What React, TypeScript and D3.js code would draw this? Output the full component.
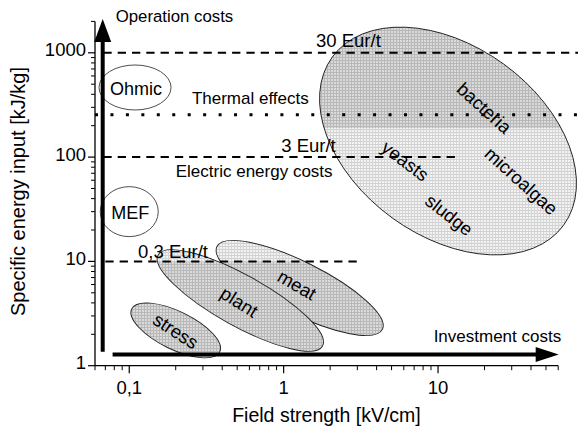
import React from 'react';
import * as d3 from 'd3';

const W = 578;
const H = 429;
const FONT = '"Liberation Sans", Arial, Helvetica, sans-serif';

// axes
const xDomain = [0.06, 60];
const yDomain = [1, 2000];
const xMajorTicks = [0.1, 1, 10];
const xTickLabels = ['0,1', '1', '10'];
const xMinorTicks = [0.06, 0.07, 0.08, 0.09, 0.2, 0.3, 0.4, 0.5, 0.6, 0.7, 0.8, 0.9, 2, 3, 4, 5, 6, 7, 8, 9, 20, 30, 40, 50, 60];
const yMajorTicks = [1, 10, 100, 1000];
const yTickLabels = ['1', '10', '100', '1000'];
const yMinorTicks = [2, 3, 4, 5, 6, 7, 8, 9, 20, 30, 40, 50, 60, 70, 80, 90, 200, 300, 400, 500, 600, 700, 800, 900, 2000];
const xTitle = 'Field strength [kV/cm]';
const yTitle = 'Specific energy input [kJ/kg]';

// cost levels (dashed lines)
const costLevels = [1000, 100, 10];
const costLabels = ['30 Eur/t', '3 Eur/t', '0,3 Eur/t'];
const costLineStart = [0.068, 0.068, 0.07];
const costLineEnd = [85, 13.3, 3];
const costLabelX = [1.62, 0.965, 0.114];

// thermal effects (dotted line)
const thermalLevel = 255;
const thermalLabel = 'Thermal effects';
const thermalLabelX = 0.2545;
const electricLabel = 'Electric energy costs';
const electricLabelX = 0.2;
const electricLabelY = 64;

// arrows
const operationLabel = 'Operation costs';
const investmentLabel = 'Investment costs';
const vArrowX = 0.0673;
const vArrowFromY = 1.36;
const hArrowY = 1.28;
const hArrowFromX = 0.078;
const hArrowLabelEndX = 60;
const hArrowLabelY = 1.7;

// outline-only ellipses
const outlineNames = ['Ohmic', 'MEF'];
const outlineCx = [0.109, 0.1];
const outlineCy = [465, 30];

// filled application regions
const regionNames = ['stress', 'plant', 'meat', 'microbes'];
const regionCx = [0.2, 0.524, 1.27, 11.6];
const regionCy = [2.18, 4.22, 5.56, 142.6];
const regionSplit = [0, 10, 10, 190];

// rotated region labels
const labelTexts = ['stress', 'plant', 'meat', 'bacteria', 'yeasts', 'sludge', 'microalgae'];
const labelX = [0.2, 0.516, 1.22, 19.9, 6.13, 11.8, 34.6];
const labelY = [2.15, 4.08, 5.94, 296, 91.8, 27.9, 59];

// styles (not data)
const outlineStyle = [
  { rx: 36, ry: 22.5 },
  { rx: 29, ry: 25 },
];
const regionStyle = [
  { rx: 49, ry: 19, angle: 26, upper: 'dark', lower: 'dark' },
  { rx: 94, ry: 25.5, angle: 29, upper: 'light', lower: 'dark' },
  { rx: 92.5, ry: 26, angle: 26.6, upper: 'light', lower: 'dark' },
  { rx: 143, ry: 95, angle: 36, upper: 'dark', lower: 'light' },
];
const labelAngle = [33, 32, 30, 42, 37, 38, 42];

export default function App() {
  const x = d3.scaleLog().domain(xDomain).range([95, 95 + 3 * 154.4]);
  const y = d3.scaleLog().domain(yDomain).range([365.7, 365.7 - Math.log10(2000) * 104.3]);

  const x0 = x(xDomain[0]);
  const x1 = x(xDomain[1]);
  const y0 = y(yDomain[0]);
  const y1 = y(yDomain[1]);

  const vx = x(vArrowX);
  const vTip = y1 - 2.5;
  const vBase = vTip + 23;
  const hy = y(hArrowY);
  const hTip = x1 + 0.5;
  const hBase = hTip - 23;

  const order = [3, 2, 1, 0];

  return (
    <svg
      width={W}
      height={H}
      viewBox={`0 0 ${W} ${H}`}
      style={{ position: 'absolute', left: 0, top: 0, background: '#fff' }}
      fontFamily={FONT}
    >
      <defs>
        <pattern id="pat-dark" width="3" height="3" patternUnits="userSpaceOnUse">
          <rect width="3" height="3" fill="#dadada" />
          <rect width="3" height="1" fill="#b8b8b8" />
          <rect width="1" height="3" fill="#b8b8b8" />
        </pattern>
        <pattern id="pat-light" width="3" height="3" patternUnits="userSpaceOnUse">
          <rect width="3" height="3" fill="#f2f2f2" />
          <rect width="3" height="1" fill="#cfcfcf" />
          <rect width="1" height="3" fill="#d6d6d6" />
        </pattern>
        {regionNames.map((n, i) => (
          <clipPath id={`clip-${n}`} key={n}>
            <ellipse
              cx={x(regionCx[i])}
              cy={y(regionCy[i])}
              rx={regionStyle[i].rx}
              ry={regionStyle[i].ry}
              transform={`rotate(${regionStyle[i].angle} ${x(regionCx[i])} ${y(regionCy[i])})`}
            />
          </clipPath>
        ))}
      </defs>

      {order.map((i) => {
        const n = regionNames[i];
        const cx = x(regionCx[i]);
        const cy = y(regionCy[i]);
        const st = regionStyle[i];
        const sy = regionSplit[i] > 0 ? y(regionSplit[i]) : H;
        return (
          <g key={n}>
            <g clipPath={`url(#clip-${n})`}>
              <rect x={0} y={0} width={W} height={sy} fill={`url(#pat-${st.upper})`} />
              <rect x={0} y={sy} width={W} height={H - sy} fill={`url(#pat-${st.lower})`} />
            </g>
            <ellipse
              cx={cx}
              cy={cy}
              rx={st.rx}
              ry={st.ry}
              transform={`rotate(${st.angle} ${cx} ${cy})`}
              fill="none"
              stroke="#222"
              strokeWidth={0.9}
            />
          </g>
        );
      })}

      {outlineNames.map((n, i) => (
        <g key={n}>
          <ellipse
            cx={x(outlineCx[i])}
            cy={y(outlineCy[i])}
            rx={outlineStyle[i].rx}
            ry={outlineStyle[i].ry}
            fill="none"
            stroke="#222"
            strokeWidth={0.8}
          />
          <text
            x={x(outlineCx[i]) + 1}
            y={y(outlineCy[i])}
            dy="0.4em"
            textAnchor="middle"
            fontSize={18}
          >
            {n}
          </text>
        </g>
      ))}

      {costLevels.map((v, i) => (
        <g key={v}>
          <line
            x1={x(costLineStart[i])}
            x2={x(costLineEnd[i])}
            y1={y(v)}
            y2={y(v)}
            stroke="#000"
            strokeWidth={2}
            strokeDasharray="8.3 6"
          />
          <text x={x(costLabelX[i])} y={y(v) - (i === 2 ? 3 : 5.5)} fontSize={18.5}>
            {costLabels[i]}
          </text>
        </g>
      ))}

      <line
        x1={x0}
        x2={W}
        y1={y(thermalLevel)}
        y2={y(thermalLevel)}
        stroke="#000"
        strokeWidth={3}
        strokeDasharray="3 12.45"
      />
      <text x={x(thermalLabelX)} y={y(thermalLevel) - 11} fontSize={17}>
        {thermalLabel}
      </text>
      <text x={x(electricLabelX)} y={y(electricLabelY)} fontSize={17}>
        {electricLabel}
      </text>

      {labelTexts.map((t, i) => (
        <text
          key={t}
          x={x(labelX[i])}
          y={y(labelY[i])}
          dy="0.35em"
          textAnchor="middle"
          fontSize={18.5}
          transform={`rotate(${labelAngle[i]} ${x(labelX[i])} ${y(labelY[i])})`}
        >
          {t}
        </text>
      ))}

      <line x1={x0} x2={x1} y1={y0} y2={y0} stroke="#000" strokeWidth={1.3} />
      <line x1={x0} x2={x0} y1={y0} y2={y1} stroke="#000" strokeWidth={1.3} />
      {xMinorTicks.map((t) => (
        <line key={`xm${t}`} x1={x(t)} x2={x(t)} y1={y0} y2={y0 + 4.5} stroke="#000" strokeWidth={1} />
      ))}
      {xMajorTicks.map((t, i) => (
        <g key={`xM${t}`}>
          <line x1={x(t)} x2={x(t)} y1={y0} y2={y0 + 7.5} stroke="#000" strokeWidth={1.2} />
          <text x={x(t)} y={y0 + 28} textAnchor="middle" fontSize={18.5}>
            {xTickLabels[i]}
          </text>
        </g>
      ))}
      {yMinorTicks.map((t) => (
        <line key={`ym${t}`} x1={x0 - 4} x2={x0} y1={y(t)} y2={y(t)} stroke="#000" strokeWidth={1} />
      ))}
      {yMajorTicks.map((t, i) => (
        <g key={`yM${t}`}>
          <line x1={x0 - 7} x2={x0} y1={y(t)} y2={y(t)} stroke="#000" strokeWidth={1.2} />
          <text x={x0 - 9} y={y(t) + 3.5} textAnchor="end" fontSize={18.5}>
            {yTickLabels[i]}
          </text>
        </g>
      ))}
      <text x={326.5} y={422} textAnchor="middle" fontSize={19.5}>
        {xTitle}
      </text>
      <text
        x={0}
        y={0}
        textAnchor="middle"
        fontSize={20}
        transform={`translate(25, 191.5) rotate(-90)`}
      >
        {yTitle}
      </text>

      <line x1={vx} x2={vx} y1={y(vArrowFromY)} y2={vBase - 1} stroke="#000" strokeWidth={4} />
      <path d={`M${vx},${vTip} L${vx + 8.5},${vBase} L${vx - 8.5},${vBase} Z`} fill="#000" />
      <text x={vx + 13} y={22} fontSize={16.8}>
        {operationLabel}
      </text>
      <line x1={x(hArrowFromX)} x2={hBase + 1} y1={hy} y2={hy} stroke="#000" strokeWidth={4} />
      <path d={`M${hTip},${hy} L${hBase},${hy - 7.5} L${hBase},${hy + 7.5} Z`} fill="#000" />
      <text x={x(hArrowLabelEndX) + 3} y={y(hArrowLabelY)} textAnchor="end" fontSize={17}>
        {investmentLabel}
      </text>
    </svg>
  );
}
